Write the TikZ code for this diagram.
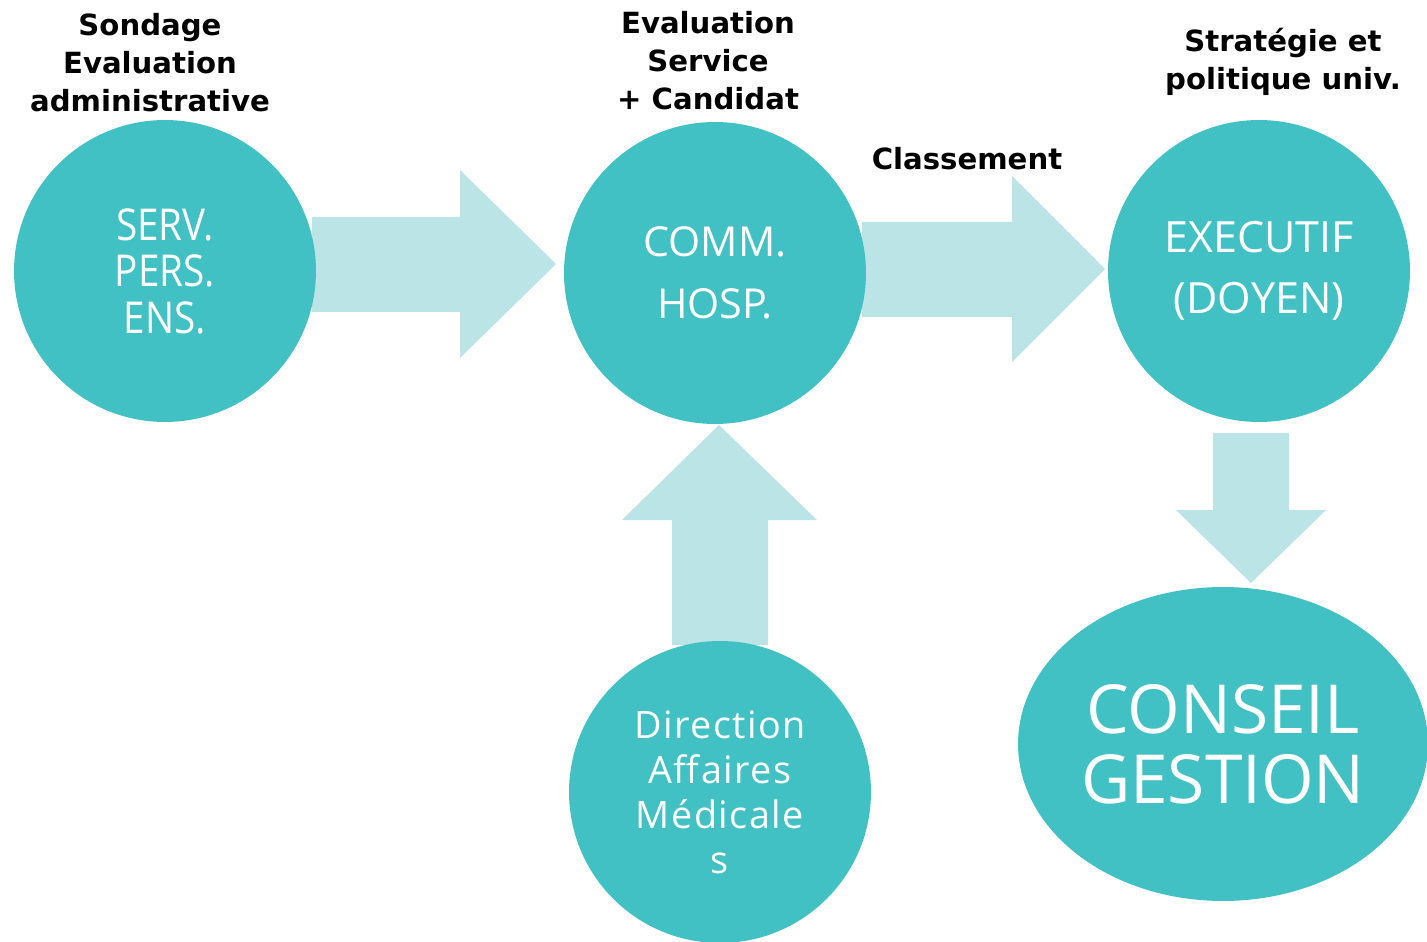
\documentclass[tikz,border=0pt]{standalone}
\usepackage{fontspec}
\setmainfont{Open Sans}
\newfontfamily\labelfont{DejaVu Sans}
\newfontfamily\servfont[FakeStretch=0.88]{Open Sans}
\newfontfamily\damfont[LetterSpace=4]{Open Sans}
\usetikzlibrary{shapes.geometric}
\definecolor{bulle}{HTML}{42C1C4}
\definecolor{fleche}{HTML}{BBE4E6}
\tikzset{
  bulle/.style={circle, fill=bulle, text=white, align=center, minimum size=6.04cm, inner sep=0pt},
  titre/.style={font=\labelfont\bfseries\fontsize{16.6}{21.6}\selectfont, align=center, text=black},
  fleche/.style={fill=fleche}
}
\begin{document}
\begin{tikzpicture}[x=0.02cm, y=-0.02cm]
  \useasboundingbox (0,0) rectangle (1427,942);

  % Flechas
  \fill[fleche] (312,217) -- (460,217) -- (460,170) -- (556,264) -- (460,358) -- (460,312) -- (312,312) -- cycle;
  \fill[fleche] (862,222) -- (1012,222) -- (1012,176) -- (1105,269) -- (1012,362) -- (1012,317) -- (862,317) -- cycle;
  \fill[fleche] (672,645) -- (672,520) -- (622,520) -- (719,425) -- (817,520) -- (768,520) -- (768,645) -- cycle;
  \fill[fleche] (1213,433) -- (1289,433) -- (1289,510) -- (1326,510) -- (1251,583) -- (1176,510) -- (1213,510) -- cycle;

  % Bulles
  \node[bulle, font=\servfont\fontsize{25}{26.5}\selectfont] (serv) at (165,271) {SERV.\\PERS.\\ENS.};
  \node[bulle, font=\fontsize{23.5}{35}\selectfont] (comm) at (715,273) {COMM.\\HOSP.};
  \node[bulle, font=\fontsize{24.5}{35}\selectfont] (exec) at (1259,271) {EXECUTIF\\(DOYEN)};
  \node[bulle, font=\damfont\fontsize{21.5}{25.6}\selectfont] (dam) at (720,792) {Direction\\Affaires\\Médicale\\s};
  \node[ellipse, fill=bulle, text=white, align=center, inner sep=0pt,
        minimum width=8.2cm, minimum height=6.28cm,
        font=\fontsize{38.5}{40}\selectfont] (conseil) at (1223,744) {CONSEIL\\GESTION};

  % Titres
  \node[titre] (sondage) at (150,63) {Sondage\\Evaluation\\administrative};
  \node[titre] (evalserv) at (708,61) {Evaluation\\Service\\+ Candidat};
  \node[titre] (classement) at (967,159) {Classement};
  \node[titre] (strategie) at (1283,62) {Stratégie et\\politique univ.};
\end{tikzpicture}
\end{document}
